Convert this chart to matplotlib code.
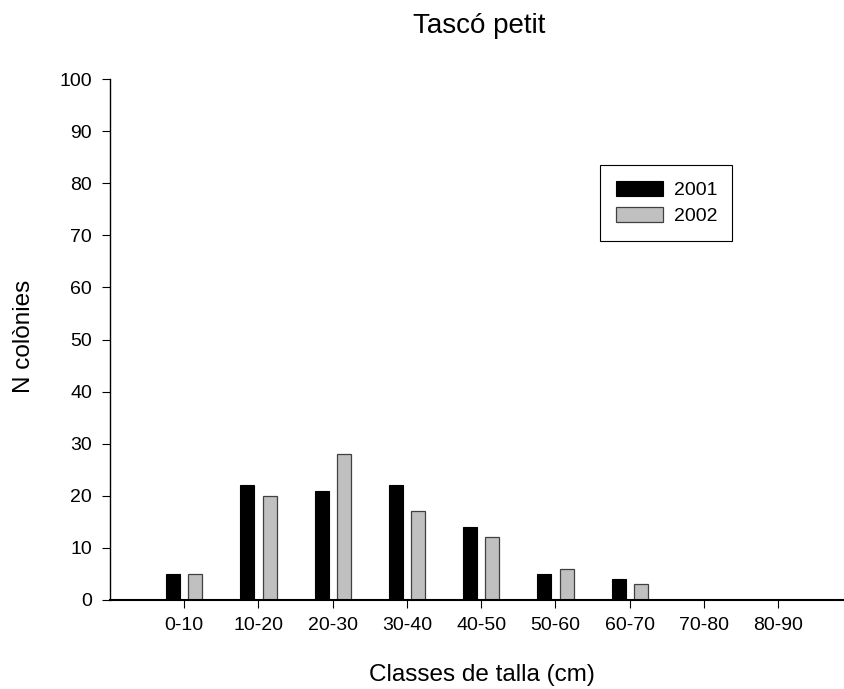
import numpy as np
import matplotlib.pyplot as plt

plt.rcParams["font.family"] = ["Liberation Sans", "DejaVu Sans"]

categories = ["0-10", "10-20", "20-30", "30-40", "40-50", "50-60", "60-70", "70-80", "80-90"]
n_2001 = [5, 22, 21, 22, 14, 5, 4, 0, 0]
n_2002 = [5, 20, 28, 17, 12, 6, 3, 0, 0]

W, H = 844, 689
fig = plt.figure(figsize=(W / 100, H / 100), dpi=100)
ax = fig.add_axes([110 / W, 1 - 600 / H, 735 / W, 521 / H])

x = np.arange(len(categories))
w = 0.19
ax.bar(x - 0.15, n_2001, w, color="black", edgecolor="black", linewidth=0.8, label="2001")
ax.bar(x + 0.15, n_2002, w, color="#c0c0c0", edgecolor="#404040", linewidth=0.9, label="2002")

ax.set_xlim(-1, 8.9)
ax.set_ylim(0, 100)
ax.set_yticks(range(0, 101, 10))
ax.set_xticks(x)
ax.set_xticklabels(categories)
ax.spines["top"].set_visible(False)
ax.spines["right"].set_visible(False)
ax.spines["bottom"].set_linewidth(1.5)
ax.spines["left"].set_linewidth(1.0)
ax.tick_params(axis="both", direction="out", length=5.5, width=0.8, labelsize=14)
ax.tick_params(axis="x", pad=7)
ax.tick_params(axis="y", pad=7.5)

# titles / labels placed as figure text
fig.text(479 / W, 1 - 33 / H, "Tascó petit", fontsize=20, ha="center", va="baseline")
fig.text(481.7 / W, 1 - 681.5 / H, "Classes de talla (cm)", fontsize=17.5, ha="center", va="baseline")
fig.text(24.5 / W, 1 - 336.7 / H, "N colònies", fontsize=17.5, ha="center", va="center", rotation=90)

leg = ax.legend(loc="center", bbox_to_anchor=(0.757, 0.762), fontsize=14,
                frameon=True, fancybox=False, edgecolor="black", framealpha=1,
                handlelength=2.42, handleheight=0.81, borderpad=0.78, labelspacing=0.42,
                handletextpad=0.57, borderaxespad=0)
leg.get_frame().set_linewidth(0.8)

fig.savefig("out.png", dpi=100)
